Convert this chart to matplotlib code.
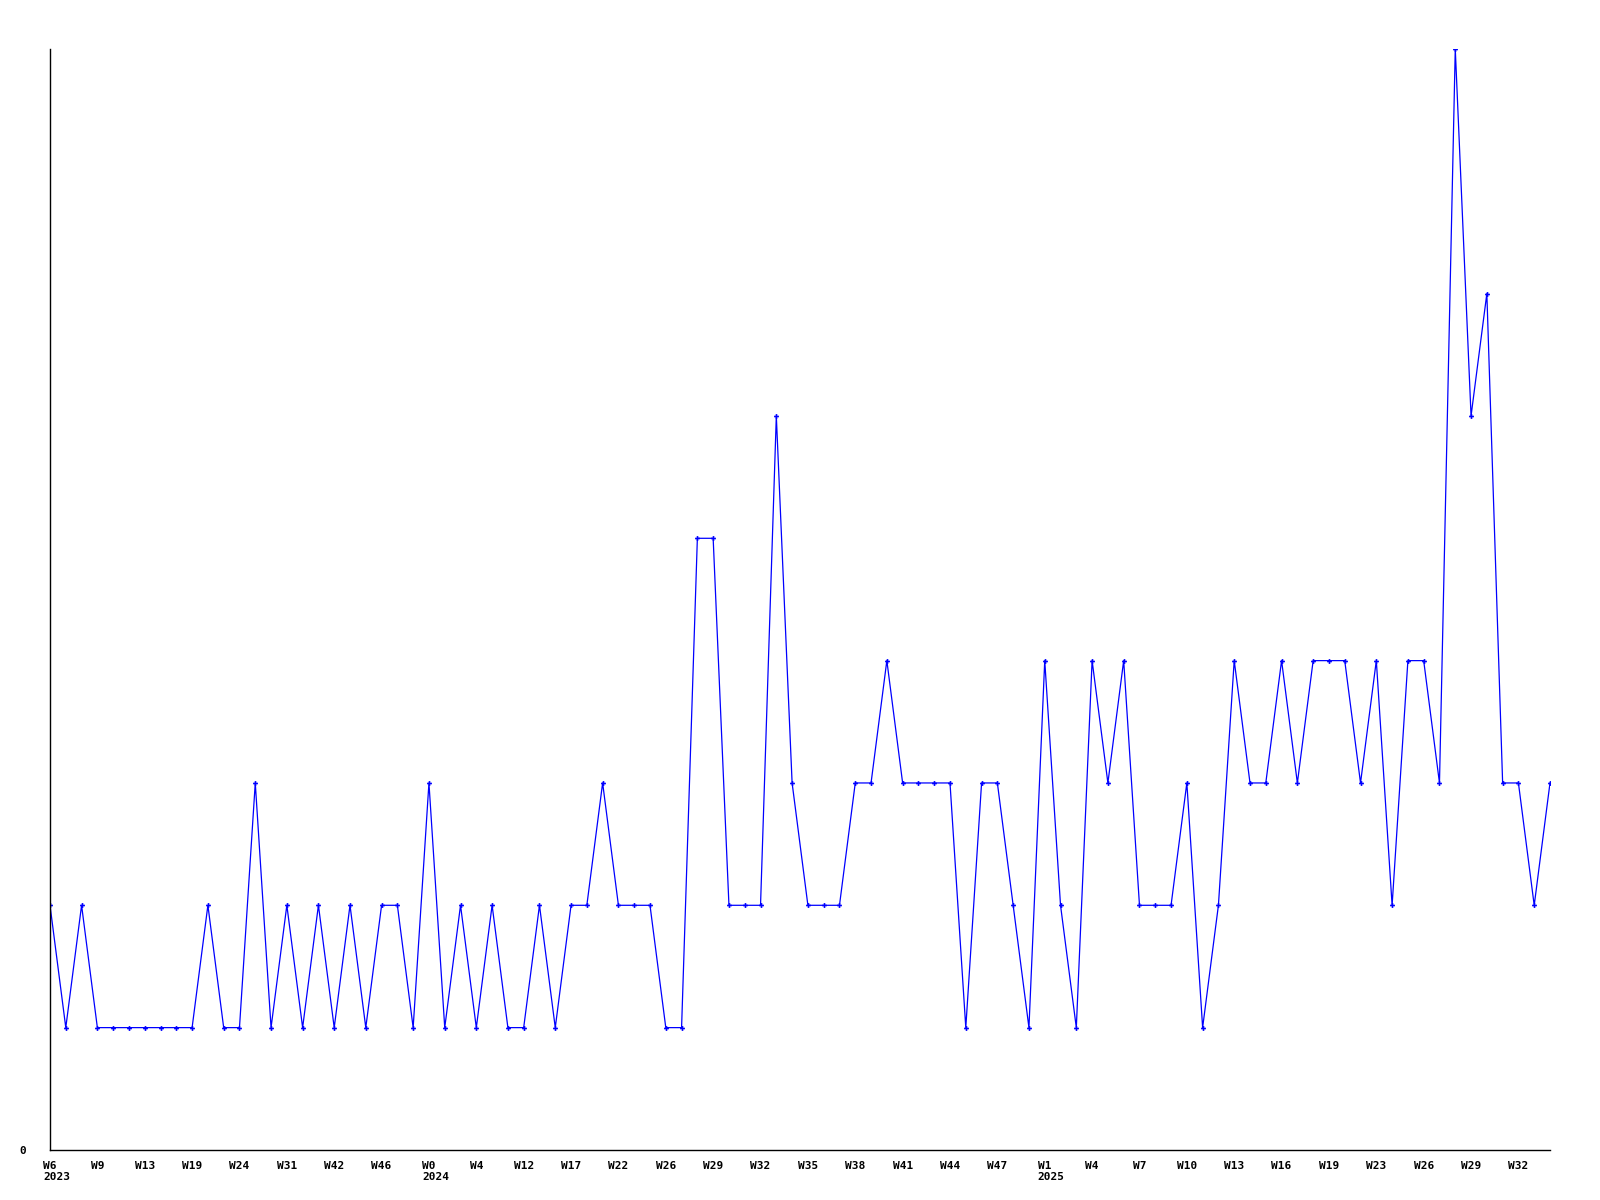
import matplotlib
matplotlib.use('Agg')
import matplotlib.pyplot as plt
from matplotlib.transforms import offset_copy

# weekly counts, one per sample
values = [2, 1, 2, 1, 1, 1, 1, 1, 1, 1,
          2, 1, 1, 3, 1, 2, 1, 2, 1, 2,
          1, 2, 2, 1, 3, 1, 2, 1, 2, 1,
          1, 2, 1, 2, 2, 3, 2, 2, 2, 1,
          1, 5, 5, 2, 2, 2, 6, 3, 2, 2,
          2, 3, 3, 4, 3, 3, 3, 3, 1, 3,
          3, 2, 1, 4, 2, 1, 4, 3, 4, 2,
          2, 2, 3, 1, 2, 4, 3, 3, 4, 3,
          4, 4, 4, 3, 4, 2, 4, 4, 3, 9,
          6, 7, 3, 3, 2, 3]

week_labels = ['W6', 'W9', 'W13', 'W19', 'W24', 'W31', 'W42', 'W46',
               'W0', 'W4', 'W12', 'W17', 'W22', 'W26', 'W29', 'W32',
               'W35', 'W38', 'W41', 'W44', 'W47', 'W1', 'W4', 'W7',
               'W10', 'W13', 'W16', 'W19', 'W23', 'W26', 'W29', 'W32']
label_step = 3
year_marks = {0: '2023', 8: '2024', 21: '2025'}  # index into week_labels

font = dict(family='DejaVu Sans Mono', weight='bold', size=8)

fig = plt.figure(figsize=(16, 12), dpi=100)
ax = fig.add_axes([0.03125, 0.0417, 0.9375, 0.9175])

x = list(range(len(values)))
ax.plot(x, values, color='#0000ff', linewidth=0.9, marker='P',
        markersize=3.5, markeredgewidth=0)

ax.set_xlim(0, len(values) - 1)
ax.set_ylim(0, 9)

ax.spines['top'].set_visible(False)
ax.spines['right'].set_visible(False)
for s in ('left', 'bottom'):
    ax.spines[s].set_linewidth(1)
    ax.spines[s].set_color('black')

ticks = [i * label_step for i in range(len(week_labels))]
ax.set_xticks(ticks)
ax.set_xticklabels(week_labels, **font)
ax.set_yticks([0])
ax.set_yticklabels(['0'], **font)
ax.tick_params(axis='x', length=0, pad=8)
ax.tick_params(axis='y', length=0, pad=17)

trans = offset_copy(ax.get_xaxis_transform(), fig=fig, x=-7, y=-22, units='dots')
for li, yr in year_marks.items():
    ax.text(ticks[li], 0, yr, transform=trans, ha='left', va='top', **font)

fig.savefig('out.png', dpi=100)
